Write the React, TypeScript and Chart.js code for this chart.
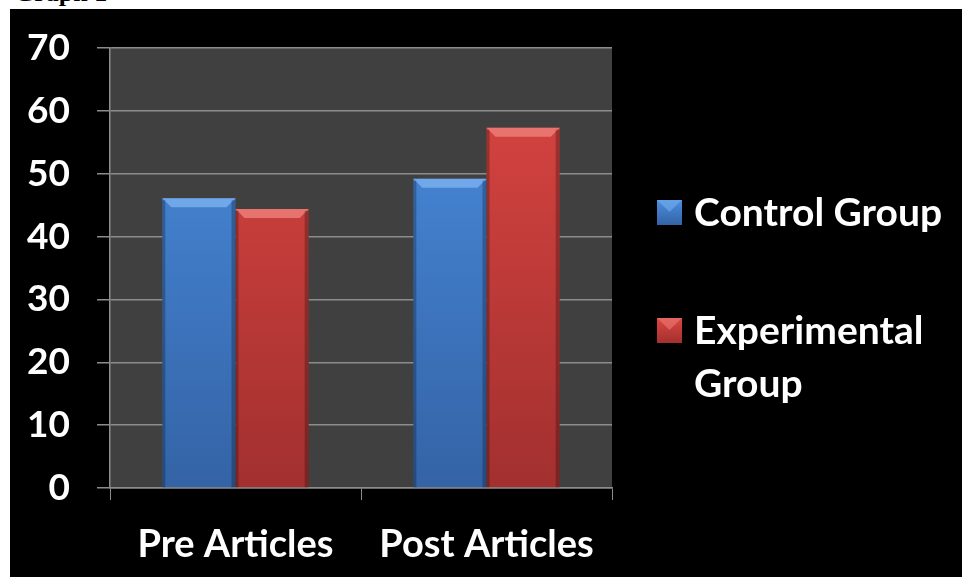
import React, { useEffect, useRef } from "react";
import { Chart, registerables } from "chart.js";

Chart.register(...registerables);

const categories = ["Pre Articles", "Post Articles"];
const controlGroup = [46.1, 49.2];
const experimentalGroup = [44.4, 57.3];
const seriesNames = ["Control Group", "Experimental Group"];
const legendLines = [["Control Group"], ["Experimental", "Group"]];
const yTicks = [0, 10, 20, 30, 40, 50, 60, 70];

const FONT = "Lato, 'Open Sans', sans-serif";
const GRID = "#8c8c8c";

const palette = [
  { top: "#4a8ee0", bottom: "#3463a6", bevel: "#7fb6f2", swatch: "#3d7cc9" },
  { top: "#dc4642", bottom: "#a2302f", bevel: "#f08580", swatch: "#c63c39" },
];

const plotBg = {
  id: "plotBg",
  beforeDraw(chart: any) {
    const { ctx, chartArea } = chart;
    ctx.save();
    ctx.fillStyle = "#404040";
    ctx.fillRect(chartArea.left, chartArea.top, chartArea.right - chartArea.left, chartArea.bottom - chartArea.top);
    ctx.restore();
  },
};

const bevel = {
  id: "bevel",
  afterDatasetsDraw(chart: any) {
    const { ctx } = chart;
    chart.data.datasets.forEach((_: any, di: number) => {
      const meta = chart.getDatasetMeta(di);
      meta.data.forEach((el: any) => {
        const { x, y, width, base } = el.getProps(["x", "y", "width", "base"], true);
        const l = x - width / 2;
        const r = x + width / 2;
        const b = 9;
        ctx.save();
        ctx.fillStyle = palette[di].bevel;
        ctx.globalAlpha = 0.75;
        ctx.beginPath();
        ctx.moveTo(l, y);
        ctx.lineTo(r, y);
        ctx.lineTo(r - b, y + b);
        ctx.lineTo(l + b, y + b);
        ctx.closePath();
        ctx.fill();
        ctx.globalAlpha = 0.25;
        ctx.fillStyle = "#000";
        ctx.fillRect(r - 4, y + 2, 4, base - y - 2);
        ctx.fillRect(l, y + 2, 3, base - y - 2);
        ctx.restore();
      });
    });
  },
};

const customLegend = {
  id: "customLegend",
  afterDraw(chart: any) {
    const { ctx } = chart;
    const starts = [203, 321];
    ctx.save();
    ctx.font = `bold 39px ${FONT}`;
    ctx.textBaseline = "middle";
    legendLines.forEach((lines, i) => {
      const cy = starts[i];
      const g = ctx.createLinearGradient(0, cy - 12, 0, cy + 13);
      g.addColorStop(0, palette[i].top);
      g.addColorStop(1, palette[i].bottom);
      ctx.fillStyle = g;
      ctx.fillRect(647, cy - 12, 25, 25);
      ctx.fillStyle = palette[i].bevel;
      ctx.beginPath();
      ctx.moveTo(647, cy - 12);
      ctx.lineTo(672, cy - 12);
      ctx.lineTo(659.5, cy);
      ctx.closePath();
      ctx.globalAlpha = 0.5;
      ctx.fill();
      ctx.globalAlpha = 1;
      ctx.fillStyle = "#ffffff";
      lines.forEach((t, j) => {
        ctx.fillText(t, 684, cy + 1 + j * 53);
      });
    });
    ctx.restore();
  },
};

function grad(chart: any, i: number) {
  const area = chart.chartArea;
  if (!area) return palette[i].top;
  const g = chart.ctx.createLinearGradient(0, area.top, 0, area.bottom);
  g.addColorStop(0, palette[i].top);
  g.addColorStop(1, palette[i].bottom);
  return g;
}

export default function App() {
  const ref = useRef<HTMLCanvasElement | null>(null);
  useEffect(() => {
    document.body.style.margin = "0";
    const chart = new Chart(ref.current as HTMLCanvasElement, {
      type: "bar",
      data: {
        labels: categories,
        datasets: [
          {
            label: seriesNames[0],
            data: controlGroup,
            backgroundColor: (c: any) => grad(c.chart, 0),
            borderWidth: 0,
          },
          {
            label: seriesNames[1],
            data: experimentalGroup,
            backgroundColor: (c: any) => grad(c.chart, 1),
            borderWidth: 0,
          },
        ],
      },
      options: {
        animation: false,
        responsive: false,
        maintainAspectRatio: false,
        layout: { padding: { left: 0, top: 39, right: 350, bottom: 0 } },
        plugins: { legend: { display: false }, tooltip: { enabled: false } },
        datasets: { bar: { categoryPercentage: 0.583, barPercentage: 1 } },
        scales: {
          x: {
            grid: { display: true, drawOnChartArea: false, drawTicks: true, tickLength: 12, color: GRID, offset: true },
            border: { color: GRID, width: 1.5 },
            ticks: { color: "#ffffff", font: { family: FONT, weight: "bold", size: 38 }, padding: 22 },
            afterFit: (s: any) => { s.height = 89; s.paddingLeft = 0; s.paddingRight = 0; },
          },
          y: {
            min: 0,
            max: 70,
            afterBuildTicks: (s: any) => { s.ticks = yTicks.map((v) => ({ value: v })); },
            grid: { color: GRID, lineWidth: 1.5, tickLength: 13 },
            border: { color: GRID, width: 1.5 },
            ticks: { color: "#ffffff", font: { family: FONT, weight: "bold", size: 37 }, padding: 27 },
            afterFit: (s: any) => { s.width = 100; s.paddingTop = 0; s.paddingBottom = 0; },
          },
        },
      } as any,
      plugins: [plotBg, bevel, customLegend],
    });
    return () => chart.destroy();
  }, []);

  return (
    <div style={{ position: "fixed", left: 0, top: 0, width: 962, height: 577, background: "#ffffff", overflow: "hidden" }}>
      <div style={{ position: "absolute", left: 14, top: -20, fontFamily: "'Liberation Serif', serif", fontWeight: "bold", fontSize: 26, color: "#000", lineHeight: "26px" }}>
        Graph 1
      </div>
      <div style={{ position: "absolute", left: 10, top: 9, width: 952, height: 568, background: "#000000" }}>
        <canvas ref={ref} width={952} height={568} style={{ display: "block", width: 952, height: 568 }} />
      </div>
    </div>
  );
}
